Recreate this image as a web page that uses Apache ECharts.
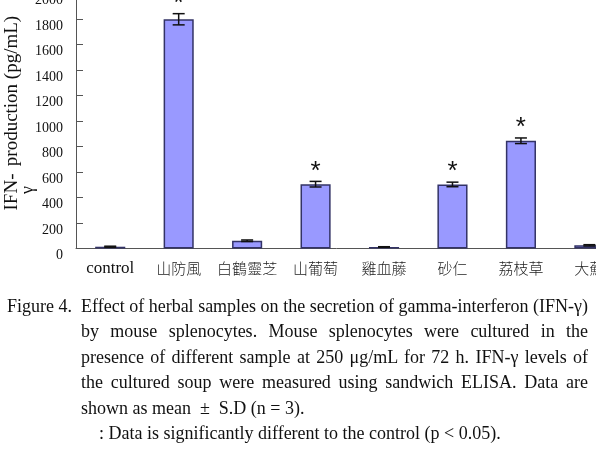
<!DOCTYPE html>
<html>
<head>
<meta charset="utf-8">
<script src="https://cdn.jsdelivr.net/npm/echarts@6/dist/echarts.min.js"></script>
<style>
html, body { margin: 0; padding: 0; background: #fff; }
#wrap { position: relative; width: 596px; height: 459px; overflow: hidden; }
#chart { position: absolute; left: 0; top: 0; width: 596px; height: 300px; }
.cap { position: absolute; font-family: 'Liberation Serif', 'Times New Roman', serif; font-size: 18px; color: #111; line-height: 25.4px; white-space: nowrap; }
.just { text-align: justify; text-align-last: justify; }
</style>
</head>
<body>
<div id="wrap">
	<div id="chart"></div>
	<div class="cap" style="left:7px; top:294px;">Figure 4.</div>
	<div class="cap just" style="left:81px; width:507px; top:294px;">Effect of herbal samples on the secretion of gamma-interferon (IFN-γ)</div>
	<div class="cap just" style="left:81px; width:507px; top:319.4px;">by mouse splenocytes. Mouse splenocytes were cultured in the</div>
	<div class="cap just" style="left:81px; width:507px; top:344.8px;">presence of different sample at 250 μg/mL for 72 h. IFN-γ levels of</div>
	<div class="cap just" style="left:81px; width:507px; top:370.2px;">the cultured soup were measured using sandwich ELISA. Data are</div>
	<div class="cap" style="left:81px; top:395.6px;">shown as mean &nbsp;±&nbsp; S.D (n = 3).</div>
	<div class="cap" style="left:99px; top:421px;">: Data is significantly different to the control (p &lt; 0.05).</div>
</div>
<script>
// 中药样品
const categories = ['control', '山防風', '白鶴靈芝', '山葡萄', '雞血藤', '砂仁', '荔枝草', '大薊'];
const means = [14, 1800, 61, 505, 12, 503, 846, 25];
const sds = [4, 44, 6, 22, 2, 18, 22, 5];
const significant = [false, true, false, true, false, true, true, false];
const yTicks = { min: 0, max: 2000, interval: 200 };

const chart = echarts.init(document.getElementById('chart'));

const errData = categories.map((c, i) => [i, means[i], sds[i]]);
const starData = [];
significant.forEach((s, i) => {
	if (s) starData.push([i, means[i] + sds[i]]);
});

function renderError(params, api) {
	const i = api.value(0);
	const top = api.coord([i, api.value(1) + api.value(2)]);
	const bot = api.coord([i, api.value(1) - api.value(2)]);
	const hw = 6;
	const st = { stroke: '#111', lineWidth: 1.5 };
	return {
		type: 'group',
		children: [
			{ type: 'line', shape: { x1: top[0], y1: top[1], x2: bot[0], y2: bot[1] }, style: st },
			{ type: 'line', shape: { x1: top[0] - hw, y1: top[1], x2: top[0] + hw, y2: top[1] }, style: st },
			{ type: 'line', shape: { x1: bot[0] - hw, y1: bot[1], x2: bot[0] + hw, y2: bot[1] }, style: st }
		]
	};
}

function renderStar(params, api) {
	const p = api.coord([api.value(0), api.value(1)]);
	return {
		type: 'text',
		x: p[0],
		y: p[1] - 10,
		style: {
			text: '*',
			fill: '#111',
			font: '26px "Liberation Sans"',
			align: 'center',
			verticalAlign: 'middle'
		}
	};
}

const titleFont = '19px "Liberation Serif"';

chart.setOption({
	animation: false,
	grid: {
		left: 76,
		right: -27.6,
		top: -6.2,
		bottom: 51.5,
		outerBoundsMode: 'none'
	},
	graphic: [
		{ type: 'text', x: 12, y: 91, rotation: Math.PI / 2, style: { text: 'production (pg/mL)', font: titleFont, fill: '#111', align: 'center', verticalAlign: 'middle' } },
		{ type: 'text', x: 12, y: 192, rotation: Math.PI / 2, style: { text: 'IFN-', font: titleFont, fill: '#111', align: 'center', verticalAlign: 'middle' } },
		{ type: 'text', x: 28, y: 190, rotation: Math.PI / 2, style: { text: 'γ', font: '18px "Liberation Serif"', fill: '#111', align: 'center', verticalAlign: 'middle' } }
	],
	xAxis: {
		type: 'category',
		data: categories,
		axisLine: { lineStyle: { color: '#555', width: 1 } },
		axisTick: { inside: true, length: 5, lineStyle: { color: '#555' } },
		axisLabel: {
			margin: 12,
			interval: 0,
			formatter: (v) => v === 'control' ? '{en|' + v + '}' : '{zh|' + v + '}',
			rich: {
				en: { fontFamily: 'Liberation Serif', fontSize: 17, color: '#111' },
				zh: { fontFamily: 'Noto Sans CJK TC', fontSize: 15, fontWeight: 300, color: '#222' }
			}
		}
	},
	yAxis: {
		type: 'value',
		min: yTicks.min,
		max: yTicks.max,
		interval: yTicks.interval,
		axisLine: { show: true, lineStyle: { color: '#555', width: 1 } },
		axisTick: { show: true, inside: true, length: 7, lineStyle: { color: '#555' } },
		splitLine: { show: false },
		axisLabel: {
			margin: 13,
			fontFamily: 'Liberation Serif',
			fontSize: 14,
			color: '#111',
			verticalAlign: 'top',
			formatter: (v) => String(v)
		}
	},
	series: [
		{
			type: 'bar',
			data: means,
			barWidth: '44%',
			itemStyle: { color: '#9999ff', borderColor: '#333366', borderWidth: 1.5 }
		},
		{
			type: 'custom',
			renderItem: renderError,
			encode: { x: 0, y: 1 },
			data: errData,
			z: 5
		},
		{
			type: 'custom',
			renderItem: renderStar,
			encode: { x: 0, y: 1 },
			data: starData,
			clip: false,
			z: 5
		}
	]
});
</script>
</body>
</html>
